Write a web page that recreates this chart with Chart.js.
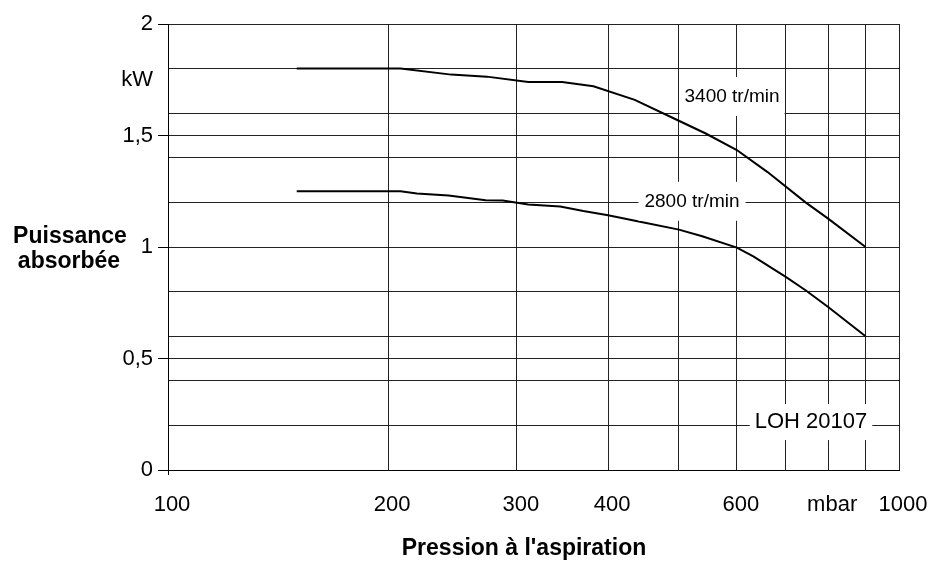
<!DOCTYPE html>
<html><head><meta charset="utf-8">
<script src="https://cdn.jsdelivr.net/npm/chart.js@4/dist/chart.umd.min.js"></script>
<style>html,body{margin:0;padding:0;background:#fff;}</style>
</head><body>
<canvas id="c" width="935" height="563"></canvas>
<script>
const xTickValues = [100,200,300,400,500,600,700,800,900,1000];
const xTickLabels = ['100','200','300','400','','600','','mbar','','1000'];
const yTickValues = [0,0.2,0.4,0.5,0.6,0.8,1,1.2,1.4,1.5,1.6,1.75,1.8,2];
const yTickLabels = ['0','','','0,5','','','1','','','1,5','','kW','','2'];

const pressure3400 = [150, 208, 244, 273, 311, 346, 382, 435, 494, 544, 600, 661, 745, 800, 900];
const power3400    = [1.80, 1.80, 1.773, 1.764, 1.74, 1.74, 1.721, 1.66, 1.574, 1.509, 1.435, 1.336, 1.20, 1.127, 1.0];

const pressure2800 = [150, 208, 219, 242, 272, 287, 311, 344, 370, 400, 444, 500, 538, 600, 632, 700, 745, 800, 900];
const power2800    = [1.25, 1.25, 1.24, 1.231, 1.21, 1.209, 1.191, 1.182, 1.161, 1.142, 1.112, 1.078, 1.048, 0.997, 0.958, 0.866, 0.806, 0.731, 0.60];

const curveLabels = ['3400 tr/min', '2800 tr/min', 'LOH 20107'];
const xTitle = "Pression à l'aspiration";
const yTitle = ['Puissance', 'absorbée'];

const FONT = "'Liberation Sans', Arial, Helvetica, sans-serif";

// label placement (data coordinates) and styling
const labelBoxes = [
  {text: curveLabels[0], x: 591, y: 1.675, size: 19, padX: 5, padY: 10},
  {text: curveLabels[1], x: 521, y: 1.205, size: 19, padX: 6, padY: 10},
  {text: curveLabels[2], x: 758, y: 0.215, size: 22, padX: 5, padY: 7}
];

const toPts = (xs, ys) => xs.map((v, i) => ({x: v, y: ys[i]}));

const annotatePlugin = {
  id: 'annot',
  afterDatasetsDraw(chart) {
    const {ctx, scales: {x, y}} = chart;
    ctx.save();
    labelBoxes.forEach(b => {
      ctx.font = b.size + 'px ' + FONT;
      const w = ctx.measureText(b.text).width;
      const cx = x.getPixelForValue(b.x), cy = y.getPixelForValue(b.y);
      const bw = w + 2 * b.padX, bh = b.size + 2 * b.padY;
      ctx.fillStyle = '#fff';
      ctx.fillRect(cx - bw / 2, cy - bh / 2, bw, bh);
      ctx.fillStyle = '#000';
      ctx.textAlign = 'center';
      ctx.textBaseline = 'middle';
      ctx.fillText(b.text, cx, cy);
    });
    ctx.restore();
  },
  afterDraw(chart) {
    const {ctx} = chart;
    ctx.save();
    ctx.fillStyle = '#000';
    ctx.font = 'bold 23px ' + FONT;
    ctx.textAlign = 'center';
    ctx.textBaseline = 'middle';
    ctx.fillText(xTitle, 524, 549);
    ctx.fillText(yTitle[0], 70, 237);
    ctx.fillText(yTitle[1], 69, 262);
    ctx.restore();
  }
};

new Chart(document.getElementById('c'), {
  type: 'line',
  data: {
    datasets: [
      {data: toPts(pressure3400, power3400), borderColor: '#000', borderWidth: 2, pointRadius: 0, tension: 0, fill: false},
      {data: toPts(pressure2800, power2800), borderColor: '#000', borderWidth: 2, pointRadius: 0, tension: 0, fill: false}
    ]
  },
  options: {
    responsive: false,
    animation: false,
    devicePixelRatio: 1,
    layout: {padding: {top: 24, right: 36, bottom: 0, left: 0}},
    plugins: {legend: {display: false}, tooltip: {enabled: false}, title: {display: false}},
    scales: {
      x: {
        type: 'logarithmic',
        min: 100, max: 1000,
        afterBuildTicks: s => { s.ticks = xTickValues.map(v => ({value: v})); },
        afterFit: s => { s.height = 93; s.paddingLeft = 0; s.paddingRight = 0; },
        ticks: {
          autoSkip: false, maxRotation: 0, minRotation: 0,
          padding: 17, labelOffset: 4,
          color: '#000', font: {family: FONT, size: 22},
          callback: (v, i) => xTickLabels[i]
        },
        grid: {
          color: '#222', lineWidth: 1, tickLength: 5,
          tickColor: c => c.index === 0 ? '#000' : 'rgba(0,0,0,0)'
        },
        border: {display: true, color: '#000', width: 1}
      },
      y: {
        type: 'linear',
        min: 0, max: 2,
        afterBuildTicks: s => { s.ticks = yTickValues.map(v => ({value: v})); },
        afterFit: s => { s.width = 168; s.paddingTop = 0; s.paddingBottom = 0; },
        ticks: {
          autoSkip: false, padding: 5,
          color: '#000', font: {family: FONT, size: 22},
          callback: (v, i) => yTickLabels[i]
        },
        grid: {
          lineWidth: 1, tickLength: 10,
          color: c => (c.tick && yTickLabels[c.index] === 'kW') ? 'rgba(0,0,0,0)' : '#222',
          tickColor: c => {
            const l = yTickLabels[c.index];
            return (l && l !== 'kW') ? '#000' : 'rgba(0,0,0,0)';
          }
        },
        border: {display: true, color: '#000', width: 1}
      }
    }
  },
  plugins: [annotatePlugin]
});
</script>
</body></html>
